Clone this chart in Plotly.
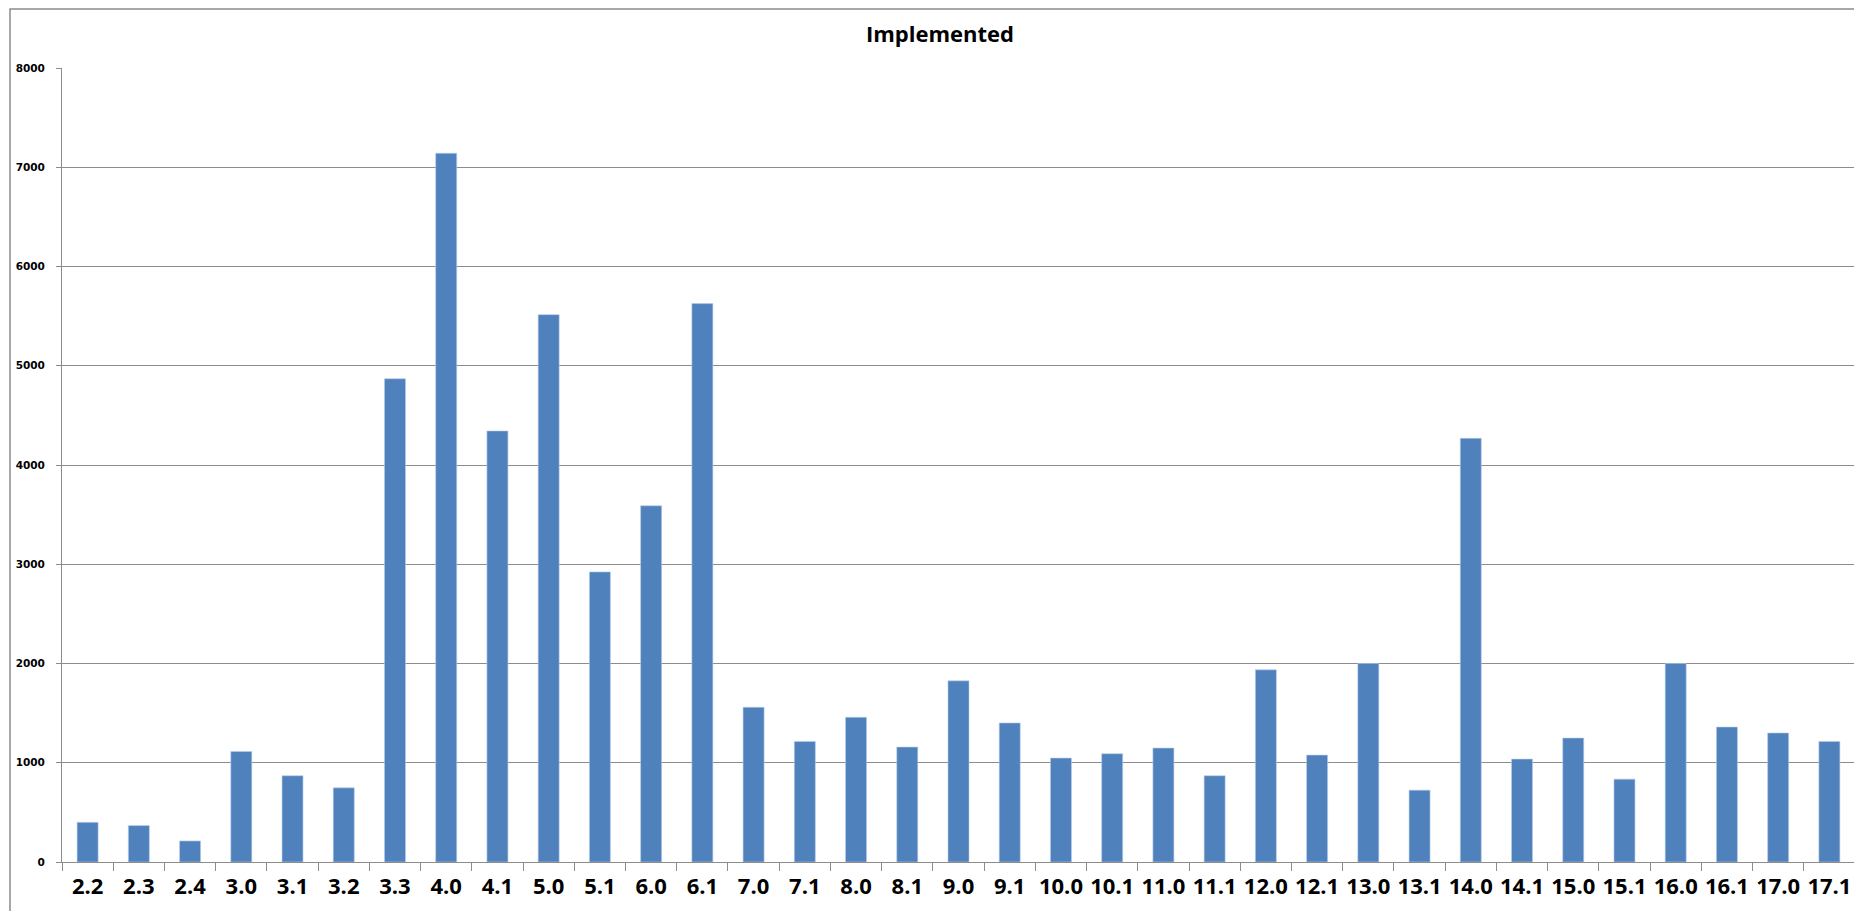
import plotly.graph_objects as go

categories = ["2.2", "2.3", "2.4", "3.0", "3.1", "3.2", "3.3", "4.0", "4.1", "5.0",
              "5.1", "6.0", "6.1", "7.0", "7.1", "8.0", "8.1", "9.0", "9.1", "10.0",
              "10.1", "11.0", "11.1", "12.0", "12.1", "13.0", "13.1", "14.0", "14.1", "15.0",
              "15.1", "16.0", "16.1", "17.0", "17.1"]
implemented = [400, 367, 212, 1114, 869, 747, 4869, 7141, 4343, 5515,
               2923, 3589, 5626, 1559, 1215, 1458, 1158, 1825, 1401, 1047,
               1091, 1148, 869, 1936, 1077, 2000, 724, 4269, 1037, 1249,
               835, 2000, 1360, 1300, 1215]
y_ticks = [0, 1000, 2000, 3000, 4000, 5000, 6000, 7000, 8000]
title_text = "Implemented"

# page body has an 8px margin; compensate so absolute positions match
OFF = 8
W, H = 1862, 911
FW, FH = W - OFF, H - OFF
L, R, T, B = 62 - OFF, 7, 68 - OFF, 49
pw = FW - L - R
ph = FH - T - B

fig = go.Figure(go.Bar(
    x=categories, y=implemented,
    marker=dict(color="#4F81BD", line=dict(color="#B9CDE5", width=0.6)),
))

grid = "#8C8C8C"
fig.update_layout(
    width=FW, height=FH,
    margin=dict(l=L, r=R, t=T, b=B, pad=0),
    paper_bgcolor="white", plot_bgcolor="white",
    bargap=0.59,
    showlegend=False,
    title=dict(text=title_text, x=(940 - OFF - L) / pw, xref="paper", xanchor="center",
               y=1 - (34 - OFF) / FH, yref="container", yanchor="middle",
               font=dict(family="Open Sans", size=22, color="black", weight="bold")),
    xaxis=dict(
        type="category", tickson="boundaries", ticks="outside", ticklen=8,
        tickcolor=grid, showline=True, linecolor=grid, linewidth=1,
        showgrid=False, tickangle=0,
        tickfont=dict(family="Open Sans", size=22, color="black", weight="bold"),
        ticklabelstandoff=5,
    ),
    yaxis=dict(
        range=[0, 8000], tickvals=y_ticks, ticks="outside", ticklen=5,
        tickcolor=grid, showline=True, linecolor=grid, linewidth=1,
        showgrid=True, gridcolor=grid, gridwidth=1, zeroline=False,
        tickfont=dict(family="DejaVu Sans", size=10.5, color="black", weight="bold"),
        ticklabelstandoff=9,
    ),
    shapes=[dict(
        type="rect", xref="paper", yref="paper",
        x0=(10 - OFF - L) / pw, x1=(FW + 20 - L) / pw,
        y0=-(B + 20) / ph, y1=(FH - B - 1) / ph,
        line=dict(color="#8C8C8C", width=1.5), fillcolor="rgba(0,0,0,0)",
        layer="below",
    )],
)

fig.write_html("out.html")
